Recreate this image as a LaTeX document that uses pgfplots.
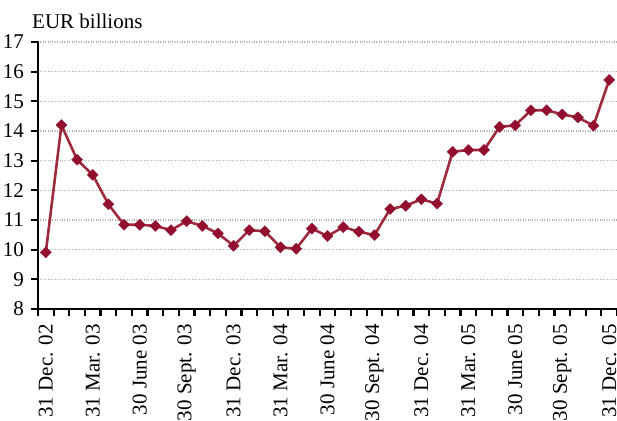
\documentclass[border=0pt]{standalone}
\usepackage{pgfplots}
\pgfplotsset{compat=1.18}
\usepackage{fontspec}
\setmainfont{Liberation Serif}
\usetikzlibrary{calc}
\definecolor{wine}{HTML}{920F30}
\definecolor{wineline}{HTML}{9E2A3C}
\begin{document}
\fontsize{21}{24}\selectfont
\begin{tikzpicture}
\begin{axis}[name=ax,
  scale only axis, width=579pt, height=267pt,
  xmin=-0.5, xmax=36.5, ymin=8, ymax=17,
  axis lines*=left,
  axis line style={line width=2.6pt, line cap=rect},
  /pgf/number format/assume math mode=true,
  ytick={8,...,17},
  ymajorgrids, grid style={gray!60, dotted, line width=1.2pt},
  tick align=outside,
  major tick length=7pt,
  minor tick length=7pt,
  every tick/.style={black, line width=2.2pt},
  xtick={0,3,...,36},
  xticklabels={31 Dec. 02,31 Mar. 03,30 June 03,30 Sept. 03,31 Dec. 03,31 Mar. 04,30 June 04,30 Sept. 04,31 Dec. 04,31 Mar. 05,30 June 05,30 Sept. 05,31 Dec. 05},
  minor xtick={-0.5,0.5,1.5,2.5,3.5,4.5,5.5,6.5,7.5,8.5,9.5,10.5,11.5,12.5,13.5,14.5,15.5,16.5,17.5,18.5,19.5,20.5,21.5,22.5,23.5,24.5,25.5,26.5,27.5,28.5,29.5,30.5,31.5,32.5,33.5,34.5,35.5,36.5},
  xtick style={draw=none},
  minor x tick style={draw=black, line width=2.2pt},
  xticklabel style={rotate=90, anchor=east, xshift=-1pt, font=\fontsize{21}{24}\selectfont},
  yticklabel style={font=\fontsize{21}{24}\selectfont, xshift=0pt},
  clip=false,
]
\addplot[color=wineline, line width=2.6pt, mark=square*, mark size=3.9pt,
  mark options={fill=wine, draw=wine, line width=0.4pt, rotate=45}]
coordinates {
(0,9.91) (1,14.2) (2,13.03) (3,12.52) (4,11.53) (5,10.84) (6,10.84) (7,10.80) (8,10.66) (9,10.96)
(10,10.80) (11,10.55) (12,10.13) (13,10.66) (14,10.62) (15,10.08) (16,10.03) (17,10.71) (18,10.46) (19,10.76)
(20,10.61) (21,10.49) (22,11.37) (23,11.48) (24,11.70) (25,11.55) (26,13.30) (27,13.36) (28,13.36) (29,14.14)
(30,14.19) (31,14.70) (32,14.70) (33,14.56) (34,14.46) (35,14.18) (36,15.72)
};
\node[anchor=base west, inner sep=0pt] at ($(rel axis cs:0,1)+(-6pt,14pt)$) {EUR billions};
\end{axis}
\pgfresetboundingbox
\path[use as bounding box] ($(ax.south west)+(-38pt,-111pt)$) rectangle ($(ax.south west)+(579pt,309pt)$);
\end{tikzpicture}
\end{document}
